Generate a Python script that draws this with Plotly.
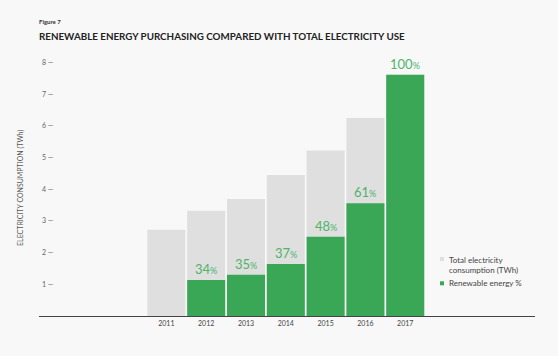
import plotly.graph_objects as go

years = [2011, 2012, 2013, 2014, 2015, 2016, 2017]
total_twh = [2.72, 3.32, 3.69, 4.45, 5.22, 6.25, 7.61]
renewable_twh = [None, 1.14, 1.30, 1.64, 2.50, 3.56, 7.61]
renewable_pct = [None, 34, 35, 37, 48, 61, 100]
y_ticks = [1, 2, 3, 4, 5, 6, 7, 8]
legend_labels = ["Total electricity<br>consumption (TWh)", "Renewable energy %"]

GRAY = "#dfdfdf"
GREEN = "#3aa757"
LABEL_GREEN = "#4db469"
BG = "#f8f8f8"
FONT = "Lato"

W, H = 558, 356
ML, MR, MT, MB = 39, 23, 53, 40
PW, PH = W - ML - MR, H - MT - MB


def px_x(x):
    return (x - ML) / PW


def px_y(y):
    return (H - MB - y) / PH


fig = go.Figure()
fig.add_trace(go.Bar(x=years, y=total_twh, marker=dict(color=GRAY, line=dict(width=0)),
                     width=0.955, showlegend=False, hoverinfo="skip"))
fig.add_trace(go.Bar(x=years, y=renewable_twh, marker=dict(color=GREEN, line=dict(width=0)),
                     width=0.955, showlegend=False, hoverinfo="skip"))

for yr, v, p in zip(years, renewable_twh, renewable_pct):
    if v is None:
        continue
    fig.add_annotation(x=yr, y=v, xref="x", yref="y", yanchor="bottom", yshift=1,
                       text=f"{p}<span style='font-size:9px'>%</span>", showarrow=False,
                       font=dict(family=FONT, size=13, color=LABEL_GREEN))

# titles
fig.add_annotation(x=px_x(37), y=px_y(22), xref="paper", yref="paper", xanchor="left", yanchor="middle",
                   text="<b>Figure 7</b>", showarrow=False, font=dict(family=FONT, size=6, color="#333"))
fig.add_annotation(x=px_x(37), y=px_y(36), xref="paper", yref="paper", xanchor="left", yanchor="middle",
                   text="<b>RENEWABLE ENERGY PURCHASING COMPARED WITH TOTAL ELECTRICITY USE</b>",
                   showarrow=False, font=dict(family=FONT, size=9.8, color="#222"))
fig.add_annotation(x=px_x(20), y=px_y(188), xref="paper", yref="paper", xanchor="center", yanchor="middle",
                   textangle=-90, text="ELECTRICITY CONSUMPTION (TWh)", showarrow=False,
                   font=dict(family=FONT, size=7, color="#555"))

# manual legend
legend_colors = [GRAY, GREEN]
legend_sq_y = [259, 283.3]
legend_txt_y = [264.5, 283.3]
for lbl, col, sy, ty in zip(legend_labels, legend_colors, legend_sq_y, legend_txt_y):
    fig.add_shape(type="rect", xref="paper", yref="paper",
                  x0=px_x(440), x1=px_x(444), y0=px_y(sy - 2), y1=px_y(sy + 2),
                  fillcolor=col, line=dict(width=0))
    fig.add_annotation(x=px_x(446.5), y=px_y(ty), xref="paper", yref="paper", xanchor="left",
                       yanchor="middle", align="left", text=lbl, showarrow=False,
                       font=dict(family=FONT, size=8, color="#444"))

fig.update_layout(
    width=W, height=H,
    margin=dict(l=ML, r=MR, t=MT, b=MB),
    paper_bgcolor=BG, plot_bgcolor=BG,
    barmode="overlay",
    showlegend=False,
    font=dict(family=FONT, color="#555"),
    xaxis=dict(range=[2007.8, 2020.26], tickmode="array", tickvals=years,
               ticktext=[str(y) for y in years], showgrid=False, zeroline=False,
               showline=True, linecolor="#444", linewidth=1.2,
               tickfont=dict(family=FONT, size=7, color="#444"), ticks=""),
    yaxis=dict(range=[0, 8.3], tickmode="array", tickvals=y_ticks,
               ticktext=[f"{t} \u2014" for t in y_ticks], showgrid=False, zeroline=False,
               showline=False, ticklabelposition="inside",
               tickfont=dict(family=FONT, size=7, color="#666"), ticks=""),
)

fig.write_html("out.html", config={"displayModeBar": False})
with open("out.html", "r", encoding="utf-8") as f:
    html = f.read()
html = html.replace("<body>", "<body style=\"margin:0;padding:0;\">", 1)
with open("out.html", "w", encoding="utf-8") as f:
    f.write(html)
